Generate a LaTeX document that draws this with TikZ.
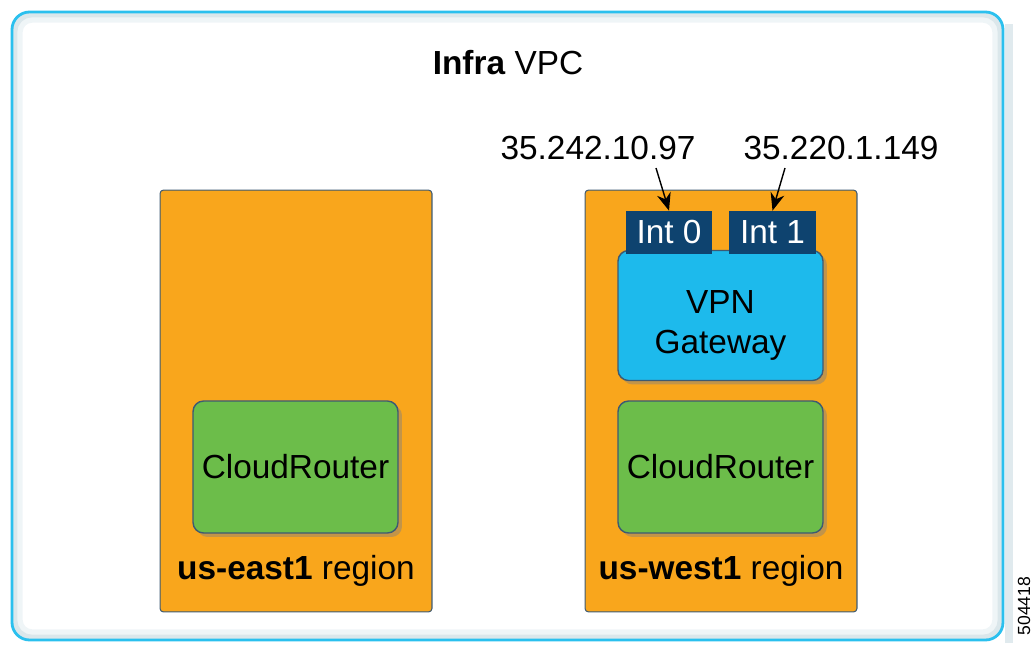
\documentclass[tikz,border=0pt]{standalone}
\usepackage{fontspec}
\setmainfont{Liberation Sans}
\usetikzlibrary{arrows.meta,shadows}

\definecolor{vpcblue}{HTML}{2BC0EE}
\definecolor{vpcshade}{HTML}{CBDCE3}
\definecolor{regionorange}{HTML}{F9A61C}
\definecolor{routergreen}{HTML}{6CBD4A}
\definecolor{gwblue}{HTML}{1DBAEC}
\definecolor{intblue}{HTML}{0E436F}
\definecolor{edgegray}{HTML}{3D5A73}

\begin{document}
\begin{tikzpicture}
[x=0.02cm,y=-0.02cm,
 bigfont/.style={font=\fontsize{19}{23}\selectfont},
 regionbox/.style={draw=edgegray,line width=0.6pt,fill=regionorange,rounded corners=2pt,minimum width=5.44cm,minimum height=8.44cm},
 routerbox/.style={draw=edgegray,line width=0.8pt,fill=routergreen,rounded corners=6pt,minimum width=4.1cm,minimum height=2.64cm,bigfont,drop shadow={shadow xshift=0.08cm,shadow yshift=-0.08cm,opacity=0.45}},
 gatewaybox/.style={draw=edgegray,line width=0.8pt,fill=gwblue,rounded corners=6pt,minimum width=4.1cm,minimum height=2.6cm,bigfont,drop shadow={shadow xshift=0.08cm,shadow yshift=-0.08cm,opacity=0.45}},
 intbox/.style={fill=intblue,text=white,minimum width=1.73cm,minimum height=0.86cm,inner sep=0pt,bigfont},
 iparrow/.style={-{Stealth[length=10pt,width=8pt]},black,line width=0.8pt}]

\useasboundingbox (0,0) rectangle (1035,646);

% Infra VPC frame
\draw[vpcshade!60,line width=4pt] (1009,24) -- (1009,643);
\draw[vpcshade!70,line width=4pt,rounded corners=9pt] (16,16) rectangle (999,636);
\draw[vpcshade!30,line width=3pt,rounded corners=7pt] (20,20) rectangle (995,632);
\draw[vpcblue,line width=1.6pt,rounded corners=10pt] (12,12) rectangle (1003,640);
\node[bigfont](title) at (508,63){\textbf{Infra} VPC};

% regions
\node[regionbox](east) at (296,401){};
\node[regionbox](west) at (721,401){};
\node[bigfont](eastlabel) at (296,571){\textbf{us-east1} region};
\node[bigfont](westlabel) at (721,571){\textbf{us-west1} region};

% cloud routers
\node[routerbox](router1) at (295.5,467){CloudRouter};
\node[routerbox](router2) at (720.5,467){CloudRouter};

% vpn gateway and interfaces
\node[gatewaybox](gateway) at (720.5,315.5){\raisebox{-0.2cm}[\height][\depth]{\begin{tabular}{@{}c@{}}VPN\\Gateway\end{tabular}}};
\node[intbox](int0) at (669,232.5){Int 0};
\node[intbox](int1) at (772.5,232.5){Int 1};

% public addresses
\node[bigfont](ip0) at (598,148){35.242.10.97};
\node[bigfont](ip1) at (841,148){35.220.1.149};
\coordinate (ip0end) at (656,168);
\coordinate (ip1end) at (785,168);
\draw[iparrow] (ip0end) -- (int0.north);
\draw[iparrow] (ip1end) -- (int1.north);

% figure number
\node[rotate=90,font=\fontsize{10}{12}\selectfont](fignum) at (1024,606){504418};

\end{tikzpicture}
\end{document}
